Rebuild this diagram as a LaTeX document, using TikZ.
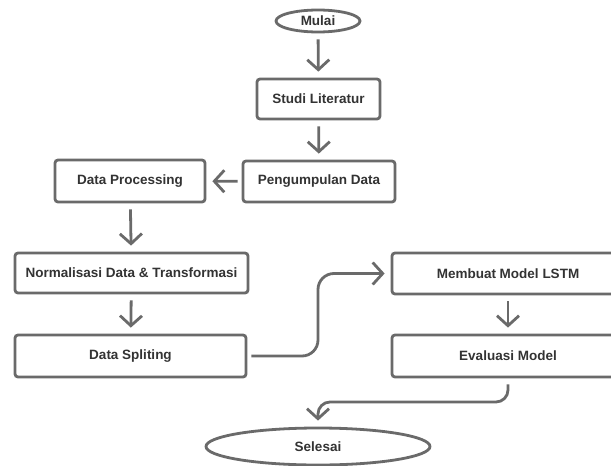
\documentclass[tikz,border=0pt]{standalone}
\usepackage{fontspec}
\setmainfont{Liberation Sans}
\usetikzlibrary{shapes.geometric,arrows.meta}
\definecolor{linegray}{HTML}{6A6A6A}
\definecolor{textgray}{HTML}{333333}
\begin{document}
\begin{tikzpicture}[x=1pt,y=-1pt,
  lbl/.style={text=textgray, font=\fontsize{13.5}{16}\selectfont\bfseries},
  box/.style={lbl, draw=linegray, line width=2.8pt, rounded corners=3pt, fill=white, inner sep=0pt, minimum height=41pt},
  oval/.style={lbl, ellipse, draw=linegray, line width=2.8pt, fill=white, inner sep=0pt},
  flow/.style={draw=linegray, line width=2.8pt, -{Straight Barb[length=10pt,width=22pt]}, shorten >=6pt, shorten <=6pt}]
\useasboundingbox (0,0) rectangle (611,466);
\clip (0,0) rectangle (611,466);
\fill[white] (0,0) rectangle (611,466);

\node[oval, minimum width=84pt, minimum height=22pt] (mulai) at (318,21) {Mulai};
\node[box, minimum width=123pt, minimum height=40pt] (studi) at (318.5,99) {Studi Literatur};
\node[box, minimum width=152pt] (kumpul) at (319,181.5) {Pengumpulan Data};
\node[box, minimum width=150pt, minimum height=42pt] (proc) at (130,181) {Data Processing};
\node[box, minimum width=233pt, minimum height=40pt] (norm) at (131.5,273) {Normalisasi Data \& Transformasi};
\node[box, minimum width=231pt, minimum height=42pt] (split) at (130.5,356) {Data Spliting};
\node[box, minimum width=232pt] (lstm) at (508,273.5) {Membuat Model LSTM};
\node[box, minimum width=232pt, minimum height=42pt] (eval) at (508,356) {Evaluasi Model};
\node[oval, minimum width=224pt, minimum height=37pt] (selesai) at (318,446.5) {Selesai};

\coordinate (bendA) at (318,315);
\coordinate (bendB) at (318,402);

\draw[flow] (mulai) -- (studi);
\draw[flow] (studi) -- (kumpul);
\draw[flow, shorten <=4pt] (kumpul) -- (proc);
\draw[flow] (proc) -- (norm);
\draw[flow] (norm) -- (split);
\draw[flow, rounded corners=16pt, shorten <=4pt] (split.east) -| (bendA) |- (lstm.west);
\draw[flow] (lstm) -- (eval);
\draw[flow, rounded corners=12pt] (eval.south) |- (bendB) -- (selesai.north);
\end{tikzpicture}
\end{document}
